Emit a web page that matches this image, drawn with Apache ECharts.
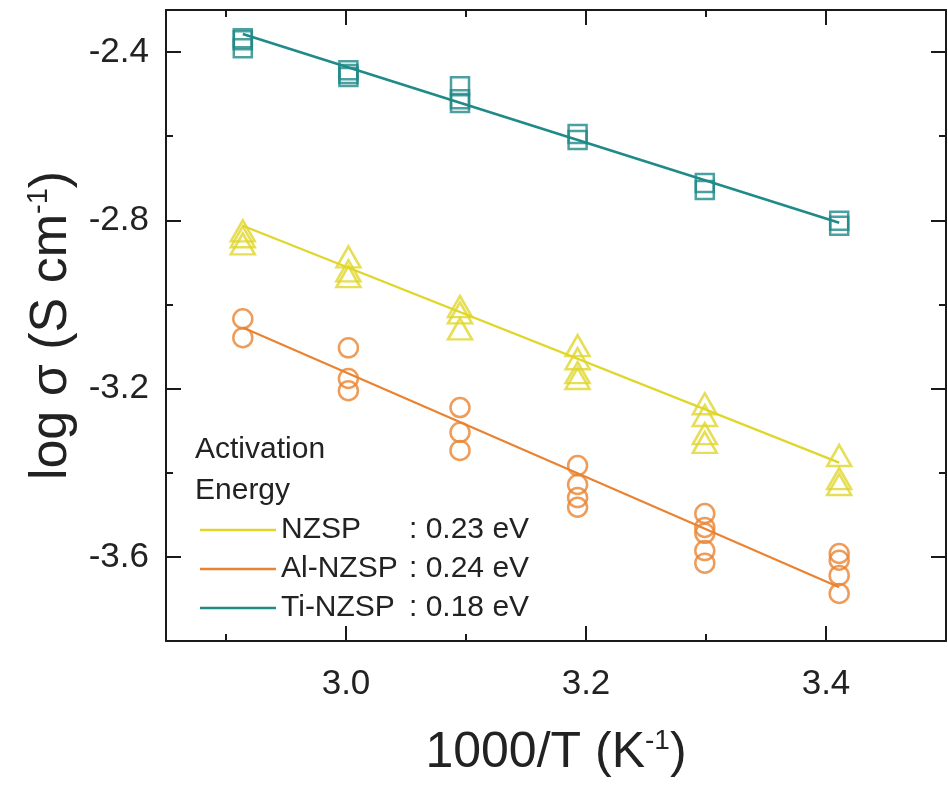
<!DOCTYPE html>
<html>
<head>
<meta charset="utf-8">
<script src="https://cdn.jsdelivr.net/npm/echarts@6/dist/echarts.min.js"></script>
<style>html,body{margin:0;padding:0;background:#fff;}#c{width:948px;height:785px;}</style>
</head>
<body>
<div id="c"></div>
<script>
// 1000/T positions (K^-1)
var invT = [2.914, 3.002, 3.095, 3.193, 3.299, 3.411];
// log sigma readings per temperature (repeated measurements)
var nzspValues = [
  [-2.825, -2.839, -2.856],
  [-2.887, -2.920, -2.934],
  [-3.005, -3.020, -3.058],
  [-3.098, -3.129, -3.162, -3.176],
  [-3.236, -3.264, -3.307, -3.328],
  [-3.359, -3.414, -3.428]
];
var alValues = [
  [-3.034, -3.079],
  [-3.103, -3.176, -3.205],
  [-3.245, -3.304, -3.347],
  [-3.383, -3.428, -3.459, -3.482],
  [-3.497, -3.530, -3.544, -3.585, -3.615],
  [-3.592, -3.608, -3.644, -3.687]
];
var tiValues = [
  [-2.367, -2.372, -2.391],
  [-2.443, -2.452, -2.459],
  [-2.481, -2.512, -2.521],
  [-2.595, -2.609],
  [-2.711, -2.728],
  [-2.801, -2.813]
];
// Linear fit end points [1000/T, log sigma]
var nzspFit = [[2.914, -2.813], [3.411, -3.376]];
var alFit = [[2.914, -3.055], [3.411, -3.672]];
var tiFit = [[2.914, -2.357], [3.411, -2.806]];
var names = ['NZSP', 'Al-NZSP', 'Ti-NZSP'];
var energies = [': 0.23 eV', ': 0.24 eV', ': 0.18 eV'];
var xMajor = [3.0, 3.2, 3.4];
var xMinor = [2.9, 3.1, 3.3];
var yMajor = [-3.6, -3.2, -2.8, -2.4];
var yMinor = [-3.4, -3.0, -2.6];

var colors = { NZSP: '#e0d62a', 'Al-NZSP': '#ea8331', 'Ti-NZSP': '#1f8a88' };
var FONT = 'Liberation Sans, Arial, sans-serif';

function pts(vals) {
  var out = [];
  vals.forEach(function (arr, i) { arr.forEach(function (v) { out.push([invT[i], v]); }); });
  return out;
}

var chart = echarts.init(document.getElementById('c'), null, { renderer: 'canvas' });
var axisLine = { show: true, lineStyle: { color: '#1a1a1a', width: 2 } };
function xAx(pos, ticks, len, labels, extra) {
  var a = {
    type: 'value', position: pos, min: 2.85, max: 3.5, gridIndex: 0,
    axisLine: axisLine, splitLine: { show: false },
    axisTick: { show: true, inside: true, length: len, customValues: ticks, lineStyle: { color: '#1a1a1a', width: 2 } },
    axisLabel: labels ? { show: true, customValues: ticks, margin: 26, fontSize: 35, color: '#222', fontFamily: FONT,
      formatter: function (v) { return v.toFixed(1); } } : { show: false }
  };
  return Object.assign(a, extra || {});
}
function yAx(pos, ticks, len, labels, extra) {
  var a = {
    type: 'value', position: pos, min: -3.8, max: -2.3, gridIndex: 0,
    axisLine: axisLine, splitLine: { show: false },
    axisTick: { show: true, inside: true, length: len, customValues: ticks, lineStyle: { color: '#1a1a1a', width: 2 } },
    axisLabel: labels ? { show: true, customValues: ticks, margin: 17, fontSize: 35, color: '#222', fontFamily: FONT,
      formatter: function (v) { return v.toFixed(1); } } : { show: false }
  };
  return Object.assign(a, extra || {});
}

var series = [];
[['NZSP', nzspValues, 'triangle', [24, 21]], ['Al-NZSP', alValues, 'circle', 19], ['Ti-NZSP', tiValues, 'rect', 18]].forEach(function (s) {
  series.push({
    type: 'scatter', name: s[0] + ' data', data: pts(s[1]), symbol: s[2], symbolSize: s[3],
    xAxisIndex: 0, yAxisIndex: 0, z: 3,
    itemStyle: { color: 'rgba(255,255,255,0)', borderColor: colors[s[0]], borderWidth: 2.5 },
    emphasis: { disabled: true }
  });
});
[['NZSP', nzspFit, 2.2], ['Al-NZSP', alFit, 2.2], ['Ti-NZSP', tiFit, 2.6]].forEach(function (s) {
  series.push({
    type: 'line', name: s[0], data: s[1], symbol: 'none', xAxisIndex: 0, yAxisIndex: 0, z: 2,
    lineStyle: { color: colors[s[0]], width: s[2] }, itemStyle: { color: colors[s[0]] },
    emphasis: { disabled: true }
  });
});

chart.setOption({
  animation: false,
  backgroundColor: '#ffffff',
  grid: { left: 166, right: 2, top: 10, bottom: 144, containLabel: false },
  title: {
    text: 'Activation\nEnergy', left: 190, top: 424,
    textStyle: { fontFamily: FONT, fontSize: 30, fontWeight: 'normal', color: '#222', lineHeight: 41 }
  },
  legend: {
    data: names, orient: 'vertical', left: 195, top: 510,
    icon: 'rect', itemWidth: 76, itemHeight: 2.5, itemGap: 9,
    formatter: function (n) {
      return '{n|' + n + '}{v|' + energies[names.indexOf(n)] + '}';
    },
    textStyle: {
      fontFamily: FONT, fontSize: 30, color: '#222',
      rich: {
        n: { fontFamily: FONT, fontSize: 30, color: '#222', width: 128 },
        v: { fontFamily: FONT, fontSize: 30, color: '#222' }
      }
    },
    selectedMode: false
  },
  xAxis: [
    xAx('bottom', xMajor, 15, true, {
      name: '1000/T (K{sup|-1})', nameLocation: 'middle', nameGap: 86,
      nameTextStyle: { fontFamily: FONT, fontSize: 50, color: '#222',
        rich: { sup: { fontFamily: FONT, fontSize: 28, color: '#222', verticalAlign: 'top', padding: [0, 0, 24, 0] } } }
    }),
    xAx('bottom', xMinor, 7, false, { axisLine: { show: false } }),
    xAx('top', xMajor, 15, false),
    xAx('top', xMinor, 7, false, { axisLine: { show: false } })
  ],
  yAxis: [
    yAx('left', yMajor, 15, true, {
      name: 'log σ (S cm{sup|-1})', nameLocation: 'middle', nameGap: 80, nameRotate: 90,
      nameTextStyle: { fontFamily: FONT, fontSize: 52, color: '#222',
        rich: { sup: { fontFamily: FONT, fontSize: 29, color: '#222', verticalAlign: 'top', padding: [0, 0, 25, 0] } } }
    }),
    yAx('left', yMinor, 7, false, { axisLine: { show: false } }),
    yAx('right', yMajor, 15, false),
    yAx('right', yMinor, 7, false, { axisLine: { show: false } })
  ],
  series: series
});
</script>
</body>
</html>
